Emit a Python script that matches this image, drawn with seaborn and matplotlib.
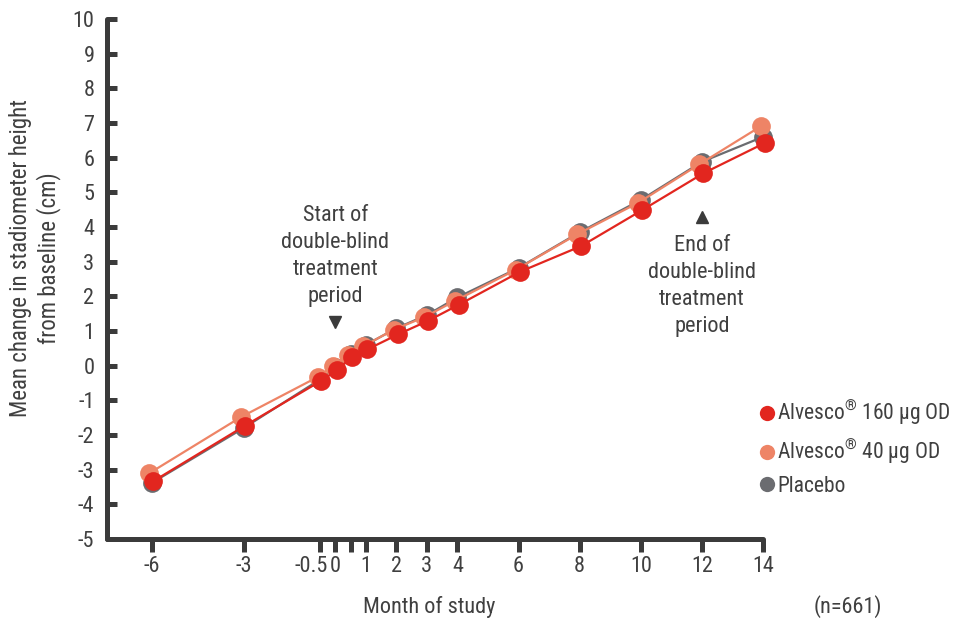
import matplotlib
matplotlib.use("Agg")
import matplotlib.pyplot as plt
import matplotlib.transforms as mtransforms
import seaborn as sns
import pandas as pd
from matplotlib.lines import Line2D

# Study months and mean change in stadiometer height (cm)
months = [-6, -3, -0.5, 0, 0.5, 1, 2, 3, 4, 6, 8, 10, 12, 14]
alvesco_160 = [-3.33, -1.73, -0.43, -0.13, 0.25, 0.47, 0.90, 1.30, 1.76, 2.71, 3.45, 4.49, 5.55, 6.42]
alvesco_40 = [-3.10, -1.48, -0.33, -0.02, 0.32, 0.56, 1.04, 1.40, 1.87, 2.77, 3.79, 4.70, 5.81, 6.90]
placebo = [-3.38, -1.80, -0.40, -0.05, 0.33, 0.60, 1.08, 1.46, 1.97, 2.82, 3.85, 4.78, 5.88, 6.60]

x_tick_labels = ["-6", "-3", "-0.5", "0", "", "1", "2", "3", "4", "6", "8", "10", "12", "14"]
y_ticks = list(range(-5, 11))

series_names = ["Alvesco® 160 µg OD", "Alvesco® 40 µg OD", "Placebo"]
legend_labels = [r"Alvesco$^{®}$ 160 µg OD", r"Alvesco$^{®}$ 40 µg OD", "Placebo"]
start_month = 0
end_month = 12

RED = "#E2261F"
ORANGE = "#EE8466"
GREY = "#6B6C70"
DARK = "#3B3B3B"
TEXT = "#404040"

FONT = "Roboto Condensed"
FS = 16

sns.set_theme(style="white")
plt.rcParams["font.family"] = [FONT, "DejaVu Sans"]
plt.rcParams["mathtext.fontset"] = "custom"
plt.rcParams["mathtext.rm"] = FONT
plt.rcParams["mathtext.it"] = FONT

df = pd.DataFrame({
    "month": months * 3,
    "change": alvesco_160 + alvesco_40 + placebo,
    "group": [series_names[0]] * len(months) + [series_names[1]] * len(months) + [series_names[2]] * len(months),
})

fig = plt.figure(figsize=(9.63, 6.19), dpi=100)
ax = fig.add_axes([107 / 963, 80 / 619, 656 / 963, 520 / 619])

colors = {series_names[0]: RED, series_names[1]: ORANGE, series_names[2]: GREY}
# slight horizontal dodge so overlapping groups stay visible
dodge = {series_names[0]: 0.05, series_names[1]: -0.08, series_names[2]: 0.0}
for name in [series_names[2], series_names[1], series_names[0]]:
    sub = df[df["group"] == name].copy()
    sub["month"] = sub["month"] + dodge[name]
    sns.lineplot(data=sub, x="month", y="change", ax=ax, color=colors[name],
                 marker="o", markersize=13.5, markeredgewidth=0, linewidth=1.6,
                 legend=False, clip_on=False)

ax.set_xlim(-7.47, 14)
ax.set_ylim(-5, 10)
ax.set_xticks(months)
ax.set_xticklabels(x_tick_labels)
ax.set_yticks(y_ticks)
ax.set_yticklabels([str(v) for v in y_ticks])
ax.set_xlabel("")
ax.set_ylabel("")

for side in ["top", "right"]:
    ax.spines[side].set_visible(False)
for side in ["left", "bottom"]:
    ax.spines[side].set_color(DARK)
    ax.spines[side].set_linewidth(3.6)
    ax.spines[side].set_capstyle("round")

ax.tick_params(axis="x", direction="out", length=9, width=3.6, color=DARK,
               labelsize=FS, labelcolor=TEXT, pad=3, bottom=True)
ax.tick_params(axis="y", direction="in", length=7, width=3.6, color=DARK,
               labelsize=FS, labelcolor=TEXT, pad=9, left=True)
for t in ax.xaxis.get_ticklines() + ax.yaxis.get_ticklines():
    t.set_solid_capstyle("round")

# nudge the crowded "-0.5" label to the left of its tick
for lbl in ax.get_xticklabels():
    if lbl.get_text() == "-0.5":
        lbl.set_transform(lbl.get_transform() +
                          mtransforms.ScaledTranslation(-6 / 72, 0, fig.dpi_scale_trans))

# treatment period annotations
ax.text(start_month, 3.16, "Start of\ndouble-blind\ntreatment\nperiod", ha="center",
        va="center", fontsize=FS, color=TEXT, linespacing=1.38)
ax.plot([start_month], [1.27], marker="v", markersize=9, color=DARK, clip_on=False)
ax.text(end_month, 2.30, "End of\ndouble-blind\ntreatment\nperiod", ha="center",
        va="center", fontsize=FS, color=TEXT, linespacing=1.38)
ax.plot([end_month], [4.28], marker="^", markersize=9, color=DARK, clip_on=False)

handles = [Line2D([], [], linestyle="none", marker="o", markersize=11,
                  markeredgewidth=0, color=c) for c in [RED, ORANGE, GREY]]
fig.legend(handles, legend_labels, loc="upper left", bbox_to_anchor=(757 / 963, 1 - 398 / 619),
           frameon=False, fontsize=15.5, labelcolor=TEXT, handletextpad=0.05,
           handlelength=0.9, labelspacing=0.45, borderaxespad=0, borderpad=0)

fig.text(35 / 963, 1 - 258 / 619, "Mean change in stadiometer height\nfrom baseline (cm)",
         rotation=90, ha="center", va="center", fontsize=16.5, color=TEXT, linespacing=1.2)
fig.text(429 / 963, 1 - 607 / 619, "Month of study", ha="center", va="center",
         fontsize=FS, color=TEXT)
fig.text(848 / 963, 1 - 607 / 619, "(n=661)", ha="center", va="center",
         fontsize=FS, color=TEXT)

fig.savefig("out.png", dpi=100)
